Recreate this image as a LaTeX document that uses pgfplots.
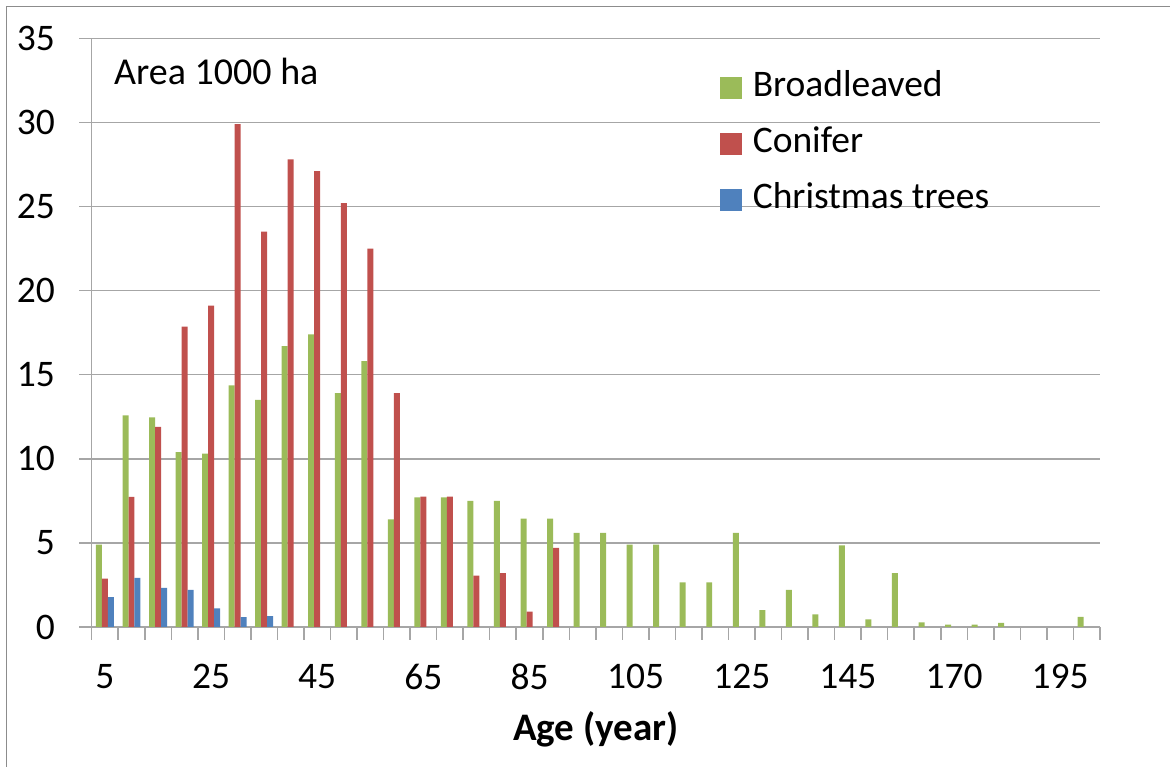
\documentclass[border=0pt]{standalone}
\usepackage{fontspec}
\setmainfont{Carlito}
\usepackage{pgfplots}
\pgfplotsset{compat=1.18}
\definecolor{cgreen}{HTML}{9BBB59}
\definecolor{cred}{HTML}{C0504D}
\definecolor{cblue}{HTML}{4F81BD}
\definecolor{gridc}{HTML}{A6A6A6}
\definecolor{framec}{HTML}{8C8C8C}
\begin{document}
\begin{tikzpicture}[x=1pt,y=1pt]
\path[use as bounding box] (0,0) rectangle (1170,767);
\draw[framec, line width=1.5pt] (6.7,0) -- (6.7,760.3) -- (1170,760.3);
\begin{axis}[
  at={(91.7pt,140pt)}, anchor=south west,
  scale only axis, width=1008.3pt, height=588.7pt,
  ymin=0, ymax=35, xmin=-0.5, xmax=37.5,
  ytick={0,5,...,35},
  xtick={-0.5,0.5,...,37.5},
  xticklabels={},
  extra x ticks={0,4,...,36},
  extra x tick labels={5,25,45,65,85,105,125,145,170,195},
  extra x tick style={major tick length=0pt, grid=none},
  ymajorgrids, grid style={gridc, line width=1.5pt},
  axis x line*=bottom, axis y line*=left,
  axis line style={gridc, line width=1.5pt},
  every tick/.style={gridc, line width=1.5pt},
  tick align=outside,
  major tick length=12.7pt,
  /pgf/number format/assume math mode=true,
  tick label style={font=\fontsize{37.5}{44}\selectfont, text=black},
  yticklabel style={inner sep=0pt, anchor=east, xshift=-24pt},
  xticklabel style={inner sep=0pt, anchor=north, yshift=-37pt},
  xlabel={Age (year)},
  xlabel style={font=\fontsize{39}{46}\selectfont\bfseries, inner sep=0pt, anchor=base, at={(axis description cs:0.5,-0.192)}},
  bar width=0.226,
  legend cell align=left,
  legend image code/.code={\fill[#1] (0pt,-10.85pt) rectangle (21.7pt,10.85pt);},
  legend style={at={(axis description cs:0.623,0.9428)}, anchor=north west, draw=none, fill=none, inner sep=0pt,
    font=\fontsize{37.5}{44}\selectfont, row sep=24pt, column sep=11pt,
    nodes={inner sep=0pt, text height=24pt, text depth=8pt}},
]
\addplot[ybar, fill=cgreen, draw=none, bar shift=-0.226] coordinates {
(0,4.9) (1,12.58) (2,12.46) (3,10.4) (4,10.3) (5,14.36) (6,13.5) (7,16.7) (8,17.4) (9,13.9)
(10,15.8) (11,6.4) (12,7.7) (13,7.7) (14,7.5) (15,7.5) (16,6.45) (17,6.45) (18,5.6) (19,5.6)
(20,4.9) (21,4.9) (22,2.65) (23,2.65) (24,5.6) (25,1.0) (26,2.2) (27,0.75) (28,4.85) (29,0.45)
(30,3.2) (31,0.28) (32,0.14) (33,0.14) (34,0.25) (37,0.6)};
\addlegendentry{Broadleaved}
\addplot[ybar, fill=cred, draw=none, bar shift=0] coordinates {
(0,2.88) (1,7.74) (2,11.9) (3,17.86) (4,19.1) (5,29.9) (6,23.5) (7,27.8) (8,27.1) (9,25.2)
(10,22.5) (11,13.9) (12,7.75) (13,7.75) (14,3.05) (15,3.2) (16,0.92) (17,4.7)};
\addlegendentry{Conifer}
\addplot[ybar, fill=cblue, draw=none, bar shift=0.226] coordinates {
(0,1.78) (1,2.92) (2,2.33) (3,2.21) (4,1.1) (5,0.59) (6,0.65)};
\addlegendentry{Christmas trees}
\node[anchor=base west, inner sep=0pt, font=\fontsize{38}{45}\selectfont] at (axis description cs:0.0221,0.9207) {Area 1000 ha};
\end{axis}
\end{tikzpicture}
\end{document}
